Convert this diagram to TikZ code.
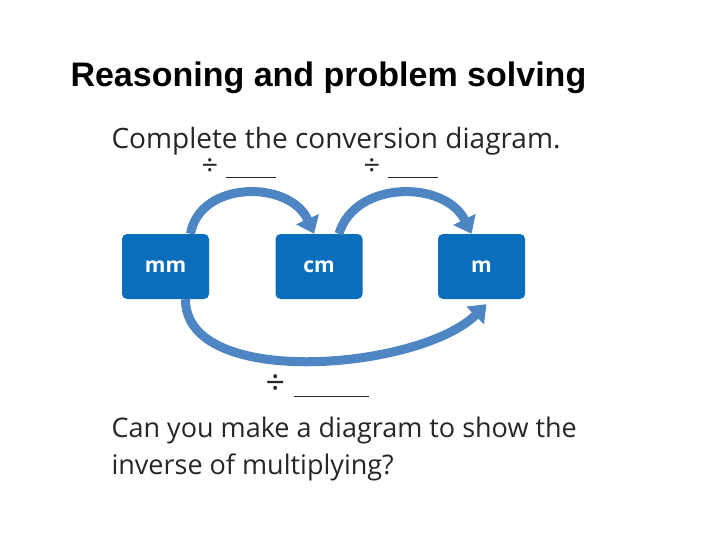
\documentclass[tikz,border=0pt]{standalone}
\usepackage{fontspec}
\setmainfont{Open Sans}
\newfontfamily\arialfont{Liberation Sans}
\usetikzlibrary{arrows.meta}

\begin{document}
\begin{tikzpicture}[x=1pt, y=-1pt]
    \definecolor{boxblue}{HTML}{0A6EBD}
    \definecolor{arrowblue}{HTML}{4D86C2}
    \tikzset{unitbox/.style={rectangle, rounded corners=5pt, fill=boxblue,
                   minimum width=87pt, minimum height=65pt, text=white,
                   font=\bfseries\fontsize{21}{24}\selectfont},
             convarrow/.style={draw=arrowblue, line width=9pt,
                   -{Triangle[width=24pt,length=16pt]}},
             label/.style={anchor=west, font=\fontsize{29}{36}\selectfont, text=black!85}}
    \useasboundingbox (0,0) rectangle (720,540);

    \node[anchor=west, font=\arialfont\bfseries\fontsize{34}{40}\selectfont] (title) at (67,78) {Reasoning and problem solving};
    \node[label, font=\fontsize{28}{32}\selectfont] (task) at (108,141) {Complete the conversion diagram.};

    \node[unitbox] (mm) at (165.5,266.5) {mm};
    \node[unitbox] (cm) at (319,266.5) {cm};
    \node[unitbox] (m)  at (481.5,266.5) {m};

    % arrows between the units
    \draw[convarrow] ([xshift=25pt]mm.north) .. controls (200,180) and (290,180) .. ([xshift=-5pt]cm.north);
    \draw[convarrow] ([xshift=20pt]cm.north) .. controls (355,180) and (445,180) .. ([xshift=-10pt]m.north);
    \draw[convarrow] ([xshift=20pt]mm.south) .. controls (185,390) and (420,370) .. ([yshift=-5pt,xshift=5pt]m.south);

    \node[label] (divA) at (198,168) {÷ \underline{\hspace{50pt}}};
    \node[label] (divB) at (360,168) {÷ \underline{\hspace{50pt}}};
    \node[label, font=\fontsize{34}{40}\selectfont] (divC) at (262,386) {÷ \underline{\hspace{75pt}}};

    \node[label, align=left, font=\fontsize{27}{37}\selectfont] (question) at (108,449) {Can you make a diagram to show the\\inverse of multiplying?};
\end{tikzpicture}
\end{document}
